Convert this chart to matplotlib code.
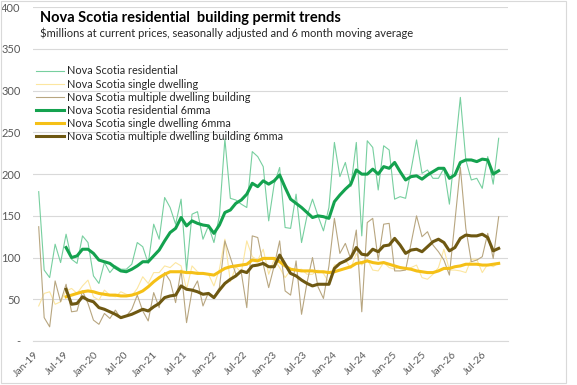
import numpy as np
import matplotlib.pyplot as plt
from matplotlib.patches import Rectangle

plt.rcParams['font.family'] = ['Lato', 'DejaVu Sans']

# monthly values, Jan-19 onwards ($ millions)
residential = [179, 85, 76, 116, 94, 128, 98, 93, 126, 118,
               78, 69, 94, 82, 90, 86, 86, 92, 118, 113,
               93, 140, 122, 172, 160, 140, 170, 84, 152, 155,
               122, 138, 118, 150, 242, 171, 169, 164, 160, 227,
               221, 209, 144, 188, 208, 136, 135, 176, 118, 150,
               170, 150, 132, 160, 238, 197, 214, 185, 238, 126,
               240, 232, 181, 234, 229, 170, 173, 171, 205, 241,
               201, 205, 195, 195, 207, 164, 228, 292, 217, 193,
               195, 183, 221, 188, 243]
single = [42, 57, 59, 44, 47, 60, 63, 57, 66, 73,
          53, 49, 61, 55, 53, 59, 56, 54, 63, 77,
          69, 82, 82, 90, 88, 94, 90, 62, 90, 83,
          80, 80, 66, 86, 122, 71, 89, 82, 120, 101,
          97, 110, 80, 98, 88, 76, 85, 85, 86, 80,
          80, 85, 81, 70, 91, 92, 97, 87, 105, 91,
          98, 85, 84, 94, 88, 86, 89, 86, 88, 91,
          76, 74, 80, 88, 110, 85, 85, 84, 82, 98,
          98, 82, 92, 89, 94]
multiple = [137, 28, 17, 72, 47, 68, 35, 36, 60, 45,
            25, 20, 33, 27, 37, 27, 30, 38, 55, 36,
            24, 58, 40, 82, 72, 46, 85, 22, 60, 72,
            42, 58, 52, 64, 120, 100, 80, 82, 40, 126,
            124, 92, 64, 90, 120, 60, 55, 96, 32, 70,
            100, 65, 51, 90, 147, 105, 117, 98, 133, 35,
            142, 147, 97, 140, 141, 84, 84, 85, 117, 150,
            125, 131, 115, 107, 97, 79, 143, 208, 135, 95,
            97, 101, 129, 99, 149]

# 6 month moving averages, starting Jun-19
residential_6mma = [112, 100, 102, 110, 110, 105, 97, 95, 93, 88,
                    84, 83, 86, 90, 95, 95, 102, 109, 120, 130,
                    135, 148, 138, 144, 141, 139, 138, 129, 139, 154,
                    157, 165, 169, 176, 189, 185, 192, 188, 192, 199,
                    184, 170, 165, 160, 154, 148, 150, 149, 147, 167,
                    175, 182, 188, 205, 200, 200, 206, 200, 209, 207,
                    214, 203, 193, 197, 198, 194, 199, 203, 207, 207,
                    195, 199, 214, 217, 217, 215, 218, 217, 200, 204]
single_6mma = [53, 55, 57, 59, 60, 59, 57, 56, 55, 55,
               54, 54, 55, 57, 60, 65, 71, 76, 80, 83,
               83, 83, 82, 82, 81, 81, 80, 79, 83, 87,
               89, 90, 91, 92, 97, 96, 99, 99, 99, 95,
               90, 86, 85, 84, 84, 84, 83, 83, 82, 83,
               85, 87, 89, 93, 94, 96, 94, 93, 94, 92,
               90, 88, 87, 86, 84, 83, 82, 82, 84, 87,
               87, 89, 90, 92, 92, 92, 91, 91, 92, 93]
multiple_6mma = [62, 44, 45, 53, 49, 47, 40, 38, 35, 32,
                 28, 30, 32, 35, 38, 36, 41, 45, 52, 54,
                 55, 66, 62, 61, 59, 56, 57, 52, 61, 69,
                 74, 78, 84, 82, 90, 91, 93, 89, 89, 103,
                 92, 81, 78, 73, 69, 66, 68, 68, 68, 87,
                 93, 96, 100, 112, 104, 103, 110, 107, 114, 115,
                 123, 115, 105, 109, 110, 107, 113, 119, 122, 118,
                 108, 112, 123, 127, 126, 126, 128, 124, 108, 111]

tick_labels = ['Jan-19', 'Jul-19', 'Jan-20', 'Jul-20', 'Jan-21', 'Jul-21',
               'Jan-22', 'Jul-22', 'Jan-23', 'Jul-23', 'Jan-24', 'Jul-24',
               'Jan-25', 'Jul-25', 'Jan-26', 'Jul-26']

x = np.arange(len(residential))
x_ma = np.arange(5, len(residential))

fig = plt.figure(figsize=(5.77, 3.85), dpi=100)
ax = fig.add_axes([0.0572, 0.1143, 0.8232, 0.8668])

# thin monthly lines
ax.plot(x, residential, color='#77cf9f', lw=0.8, label='Nova Scotia residential')
ax.plot(x, single, color='#fce6a0', lw=0.8, label='Nova Scotia single dwelling')
ax.plot(x, multiple, color='#b8a680', lw=0.8, label='Nova Scotia multiple dwelling building')
# moving averages
ax.plot(x_ma, residential_6mma, color='#14a24f', lw=2.2, label='Nova Scotia residential 6mma')
ax.plot(x_ma, single_6mma, color='#f5c017', lw=2.2, label='Nova Scotia single dwelling 6mma')
ax.plot(x_ma, multiple_6mma, color='#6e5812', lw=2.2, label='Nova Scotia multiple dwelling building 6mma')

ax.set_xlim(-1.04, 85.7)
ax.set_ylim(0, 400)
ax.set_yticks(range(0, 401, 50))
ax.set_yticklabels(['-'] + [str(v) for v in range(50, 401, 50)])
ax.grid(axis='y', color='#d9d9d9', lw=0.8)
ax.set_axisbelow(True)
for s in ['left', 'right', 'top']:
    ax.spines[s].set_visible(False)
ax.spines['bottom'].set_color('#d9d9d9')

ax.set_xticks(np.arange(16) * 5.46 - 0.3)
ax.set_xticklabels(tick_labels, rotation=45, ha='right', va='center',
                   rotation_mode='anchor')
ax.tick_params(axis='y', length=0, pad=9, labelsize=8, labelcolor='#595959')
ax.tick_params(axis='x', length=0, pad=9, labelsize=7.5, labelcolor='#595959')

fig.text(0.069, 0.943, 'Nova Scotia residential  building permit trends',
         fontsize=10.5, fontweight='bold', color='#000000')
fig.text(0.069, 0.905, r'\$millions at current prices, seasonally adjusted and 6 month moving average',
         fontsize=8, color='#262626')

ax.legend(loc='upper left', bbox_to_anchor=(0.062, 0.83), bbox_transform=fig.transFigure,
          frameon=False, fontsize=7.8, handlelength=2.6, handletextpad=0.3,
          labelspacing=0.2, borderpad=0, borderaxespad=0, labelcolor='#262626')

fig.patches.append(Rectangle((0.001, 0.004), 0.98, 0.994, transform=fig.transFigure,
                             fill=False, edgecolor='#d9d9d9', lw=0.8))

fig.savefig('out.png', dpi=100)
